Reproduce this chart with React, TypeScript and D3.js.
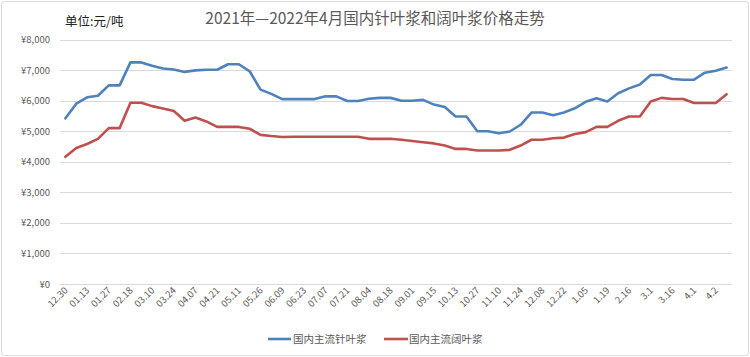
import React from "react";
import * as d3 from "d3";

const labels = ["12.30","01.13","01.27","02.18","03.10","03.24","04.07","04.21","05.11","05.26","06.09","06.23","07.07","07.21","08.04","08.18","09.01","09.15","10.13","10.27","11.10","11.24","12.08","12.22","1.05","1.19","2.16","3.1","3.16","4.1","4.2"];

const softwood = [5420,5900,6110,6160,6500,6500,7250,7250,7140,7050,7020,6940,6990,7010,7010,7190,7190,6960,6360,6220,6050,6050,6050,6050,6140,6140,5990,5990,6060,6090,6090,5995,5995,6025,5870,5790,5480,5480,5000,5000,4930,4990,5210,5610,5610,5520,5610,5750,5960,6076,5970,6240,6400,6530,6840,6840,6710,6685,6685,6914,6980,7080];

const hardwood = [4160,4450,4580,4750,5100,5100,5930,5930,5820,5740,5660,5340,5450,5320,5140,5140,5140,5080,4880,4840,4810,4820,4820,4820,4820,4820,4820,4820,4750,4750,4750,4720,4680,4640,4600,4530,4420,4420,4370,4370,4370,4390,4530,4720,4720,4770,4790,4910,4970,5140,5140,5340,5480,5480,5970,6090,6055,6055,5920,5920,5920,6210];

const yTicks = [0,1000,2000,3000,4000,5000,6000,7000,8000];
const seriesNames = ["国内主流针叶浆","国内主流阔叶浆"];
const colors = ["#4F81BD","#C0504D"];

export default function App() {
  const W = 750, H = 357;
  const idx = d3.range(softwood.length);
  const x = d3.scaleBand<number>().domain(idx).range([60, 732]);
  const cx = (i: number) => (x(i) as number) + x.bandwidth() / 2;
  const y = d3.scaleLinear().domain([0, 8000]).range([284, 39.5]);
  const line = d3.line<number>().x((_, i) => cx(i)).y(d => y(d));
  const fmt = (v: number) => "¥" + d3.format(",")(v);
  const font = "'Noto Sans CJK SC', 'Liberation Sans', sans-serif";
  return (
    <div style={{ position: "absolute", left: 0, top: 0 }}>
      <svg width={W} height={H} style={{ display: "block", fontFamily: font }}>
        <rect x={0} y={0} width={W} height={H} fill="#fff" />
        <rect x={1.5} y={1.5} width={W - 3} height={H - 3} fill="none" stroke="#D9D9D9" strokeWidth={1} rx={3} />
        <text x={375} y={24} textAnchor="middle" fontSize={15.5} fill="#595959">2021年—2022年4月国内针叶浆和阔叶浆价格走势</text>
        <text x={65} y={26} fontSize={12.5} fill="#222">单位:元/吨</text>
        {yTicks.map(t => (
          <g key={t}>
            <line x1={60} x2={732} y1={Math.round(y(t)) + 0.5} y2={Math.round(y(t)) + 0.5} stroke="#D9D9D9" strokeWidth={1} />
            <text x={50} y={y(t) + 3.5} textAnchor="end" fontSize={9.5} fill="#595959">{fmt(t)}</text>
          </g>
        ))}
        {labels.map((l, j) => {
          const px = cx(j * 2) + 3;
          const py = 291;
          return (
            <text key={j} x={px} y={py} textAnchor="end" fontSize={9.5} fill="#595959" transform={`rotate(-45 ${px} ${py})`}>{l}</text>
          );
        })}
        <path d={line(hardwood) || ""} fill="none" stroke={colors[1]} strokeWidth={2.6} strokeLinejoin="round" strokeLinecap="round" />
        <path d={line(softwood) || ""} fill="none" stroke={colors[0]} strokeWidth={2.6} strokeLinejoin="round" strokeLinecap="round" />
        <g>
          <line x1={268} x2={291} y1={339} y2={339} stroke={colors[0]} strokeWidth={2.6} />
          <text x={293} y={343} fontSize={10.5} fill="#595959">{seriesNames[0]}</text>
          <line x1={384} x2={408} y1={339} y2={339} stroke={colors[1]} strokeWidth={2.6} />
          <text x={409} y={343} fontSize={10.5} fill="#595959">{seriesNames[1]}</text>
        </g>
      </svg>
    </div>
  );
}
